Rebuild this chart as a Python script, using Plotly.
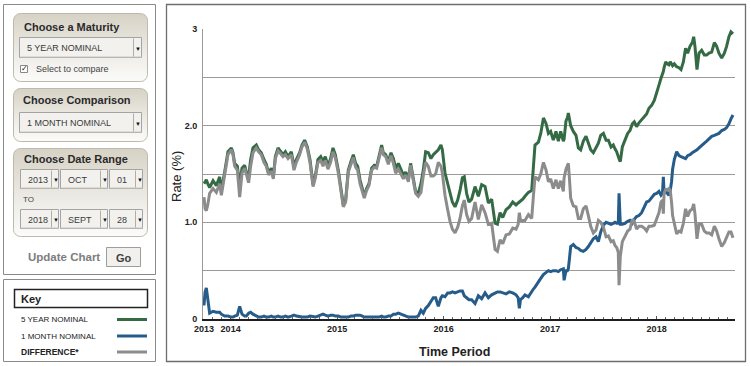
import numpy as np
import plotly.graph_objects as go

# ---------------- data (decimal years, rates in %) ----------------
years = [
    2013.750, 2013.760, 2013.772, 2013.785, 2013.803, 2013.835, 2013.866, 2013.897, 2013.913, 2013.944,
    2013.975, 2014.007, 2014.022, 2014.038, 2014.063, 2014.085, 2014.107, 2014.132, 2014.147, 2014.169,
    2014.188, 2014.210, 2014.241, 2014.263, 2014.288, 2014.313, 2014.335, 2014.357, 2014.382, 2014.401,
    2014.420, 2014.445, 2014.470, 2014.492, 2014.514, 2014.539, 2014.570, 2014.595, 2014.617, 2014.648,
    2014.670, 2014.695, 2014.720, 2014.745, 2014.774, 2014.795, 2014.820, 2014.846, 2014.867, 2014.889,
    2014.914, 2014.939, 2014.961, 2014.983,
    2015.011, 2015.036, 2015.058, 2015.080, 2015.105, 2015.130, 2015.152, 2015.174, 2015.193, 2015.215,
    2015.237, 2015.255, 2015.277, 2015.299, 2015.324, 2015.349, 2015.371, 2015.393, 2015.418, 2015.434,
    2015.456, 2015.481, 2015.506, 2015.528, 2015.550, 2015.575, 2015.600, 2015.622, 2015.644, 2015.669,
    2015.690, 2015.716, 2015.737, 2015.762, 2015.787, 2015.809, 2015.831, 2015.856, 2015.881, 2015.903,
    2015.925, 2015.950, 2015.975, 2015.988, 2016.013, 2016.038, 2016.060, 2016.082, 2016.107, 2016.132,
    2016.154, 2016.176, 2016.194, 2016.216, 2016.238,
    2016.263, 2016.295, 2016.326, 2016.357, 2016.389, 2016.420, 2016.451, 2016.483, 2016.505, 2016.530,
    2016.555, 2016.586, 2016.617, 2016.649, 2016.680, 2016.700, 2016.711, 2016.722, 2016.743, 2016.764,
    2016.796, 2016.827, 2016.843, 2016.858, 2016.890, 2016.912, 2016.937, 2016.962, 2016.984, 2017.005,
    2017.030, 2017.055, 2017.077, 2017.099, 2017.124, 2017.131, 2017.149, 2017.162, 2017.171, 2017.181,
    2017.193, 2017.218, 2017.243, 2017.265, 2017.287, 2017.312, 2017.337, 2017.359, 2017.381, 2017.406,
    2017.431, 2017.453, 2017.475, 2017.500, 2017.525,
    2017.547, 2017.572, 2017.593, 2017.609, 2017.625, 2017.640, 2017.647, 2017.653, 2017.659, 2017.678,
    2017.703, 2017.728, 2017.750, 2017.772, 2017.790, 2017.812, 2017.834, 2017.859, 2017.884, 2017.906,
    2017.928, 2017.953, 2017.978, 2018.000, 2018.022, 2018.041, 2018.055, 2018.063, 2018.070, 2018.085,
    2018.100, 2018.115, 2018.128, 2018.140, 2018.150, 2018.166, 2018.188, 2018.210, 2018.229, 2018.251,
    2018.272, 2018.291, 2018.313, 2018.335, 2018.348, 2018.360, 2018.379, 2018.398, 2018.423, 2018.448,
    2018.470, 2018.492, 2018.517, 2018.542, 2018.564, 2018.585, 2018.611, 2018.636, 2018.657, 2018.679,
    2018.698, 2018.717,
]

five_year = [
    1.40, 1.42, 1.44, 1.40, 1.36, 1.43, 1.38, 1.47, 1.33, 1.52,
    1.73, 1.77, 1.72, 1.61, 1.58, 1.39, 1.56, 1.59, 1.52, 1.47,
    1.65, 1.77, 1.80, 1.75, 1.72, 1.65, 1.60, 1.51, 1.56, 1.47,
    1.68, 1.77, 1.73, 1.70, 1.73, 1.68, 1.73, 1.58, 1.65, 1.72,
    1.80, 1.85, 1.78, 1.65, 1.39, 1.48, 1.65, 1.68, 1.63, 1.68,
    1.58, 1.66, 1.77, 1.70,
    1.54, 1.33, 1.18, 1.23, 1.54, 1.63, 1.70, 1.61, 1.58, 1.44,
    1.34, 1.27, 1.35, 1.40, 1.56, 1.59, 1.58, 1.68, 1.80, 1.72,
    1.70, 1.63, 1.72, 1.66, 1.56, 1.61, 1.54, 1.49, 1.52, 1.44,
    1.61, 1.46, 1.32, 1.30, 1.40, 1.54, 1.73, 1.72, 1.66, 1.70,
    1.72, 1.75, 1.80, 1.75, 1.51, 1.40, 1.28, 1.21, 1.16, 1.23,
    1.33, 1.46, 1.47, 1.30, 1.21,
    1.24, 1.37, 1.27, 1.39, 1.37, 1.20, 1.24, 0.99, 0.98, 1.10,
    1.05, 1.13, 1.16, 1.21, 1.18, 1.20, 1.21, 1.22, 1.24, 1.27,
    1.31, 1.33, 1.58, 1.80, 1.83, 1.92, 2.08, 2.02, 1.92, 1.94,
    1.85, 1.94, 1.84, 1.94, 1.84, 1.86, 2.05, 2.08, 2.13, 2.08,
    2.00, 1.94, 1.90, 1.77, 1.75, 1.84, 1.89, 1.82, 1.75, 1.72,
    1.77, 1.82, 1.90, 1.92, 1.85,
    1.85, 1.78, 1.80, 1.76, 1.73, 1.68, 1.65, 1.64, 1.63, 1.78,
    1.85, 1.92, 1.95, 2.02, 2.04, 1.99, 2.03, 2.06, 2.09, 2.12,
    2.18, 2.21, 2.26, 2.33, 2.42, 2.49, 2.53, 2.56, 2.60, 2.66,
    2.64, 2.63, 2.66, 2.63, 2.62, 2.64, 2.61, 2.60, 2.58, 2.66,
    2.80, 2.75, 2.82, 2.86, 2.92, 2.82, 2.58, 2.75, 2.78, 2.73,
    2.73, 2.75, 2.76, 2.86, 2.82, 2.75, 2.70, 2.75, 2.82, 2.92,
    2.97, 2.95,
]

one_month = [
    0.14, 0.28, 0.32, 0.22, 0.06, 0.08, 0.07, 0.07, 0.05, 0.03,
    0.03, 0.02, 0.02, 0.03, 0.04, 0.13, 0.05, 0.03, 0.03, 0.06,
    0.07, 0.05, 0.03, 0.02, 0.02, 0.03, 0.02, 0.02, 0.03, 0.02,
    0.02, 0.03, 0.02, 0.02, 0.03, 0.02, 0.03, 0.04, 0.03, 0.02,
    0.02, 0.02, 0.02, 0.03, 0.02, 0.02, 0.03, 0.04, 0.05, 0.04,
    0.03, 0.04, 0.04, 0.03,
    0.03, 0.02, 0.02, 0.02, 0.02, 0.03, 0.03, 0.04, 0.04, 0.04,
    0.03, 0.02, 0.02, 0.02, 0.02, 0.02, 0.02, 0.02, 0.03, 0.02,
    0.02, 0.03, 0.03, 0.05, 0.05, 0.06, 0.05, 0.04, 0.03, 0.02,
    0.02, 0.02, 0.02, 0.03, 0.09, 0.06, 0.11, 0.14, 0.18, 0.22,
    0.22, 0.13, 0.22, 0.24, 0.23, 0.27, 0.27, 0.28, 0.27, 0.28,
    0.29, 0.29, 0.24, 0.22, 0.20,
    0.20, 0.16, 0.24, 0.21, 0.27, 0.22, 0.25, 0.27, 0.28, 0.28,
    0.27, 0.26, 0.28, 0.27, 0.25, 0.22, 0.11, 0.20, 0.22, 0.25,
    0.23, 0.29, 0.31, 0.33, 0.39, 0.42, 0.46, 0.48, 0.50, 0.49,
    0.50, 0.50, 0.49, 0.51, 0.52, 0.40, 0.50, 0.50, 0.52, 0.62,
    0.75, 0.77, 0.74, 0.73, 0.71, 0.70, 0.72, 0.75, 0.79, 0.83,
    0.85, 0.80, 0.90, 0.97, 1.00,
    0.99, 0.98, 0.99, 1.00, 0.99, 0.99, 1.30, 0.99, 0.98, 0.98,
    0.99, 1.01, 1.02, 0.99, 1.03, 1.06, 1.07, 1.10, 1.15, 1.21,
    1.22, 1.25, 1.29, 1.30, 1.32, 1.28, 1.30, 1.47, 1.30, 1.32,
    1.30, 1.28, 1.33, 1.42, 1.55, 1.65, 1.73, 1.69, 1.68, 1.67,
    1.66, 1.69, 1.70, 1.72, 1.73, 1.73, 1.75, 1.77, 1.80, 1.82,
    1.84, 1.86, 1.89, 1.90, 1.91, 1.92, 1.95, 1.96, 1.98, 2.02,
    2.07, 2.11,
]

# the chart's third series is the spread between the two rates
difference = [round(f - m, 2) for f, m in zip(five_year, one_month)]

year_tick_positions = [2013.75, 2014, 2015, 2016, 2017, 2018]
year_tick_labels = ["2013", "2014", "2015", "2016", "2017", "2018"]
rate_tick_values = [0, 1, 2, 3]
rate_tick_labels = ["0", "1.0", "2.0", "3"]
series_names = ["5 YEAR NOMINAL", "1 MONTH NOMINAL", "DIFFERENCE*"]

# ---------------- styling ----------------
W, H = 750, 366
FONT = "Liberation Sans, Arial, Helvetica, sans-serif"
GREEN = "#346b44"
BLUE = "#265c89"
GRAY = "#8c8c8c"

fig = go.Figure()

for name, vals, col in [(series_names[0], five_year, GREEN),
                        (series_names[1], one_month, BLUE),
                        (series_names[2], difference, GRAY)]:
    fig.add_trace(go.Scatter(x=years, y=vals, mode="lines", name=name,
                             line=dict(color=col, width=3), xaxis="x", yaxis="y",
                             showlegend=False, hoverinfo="skip"))

# ---------- left control panels (pixel space on x2/y2) ----------
def rounded_poly(x0, y0, x1, y1, r, n=8):
    xs, ys = [], []
    for cx, cy, a0, a1 in [(x1 - r, y0 + r, -90, 0), (x1 - r, y1 - r, 0, 90),
                           (x0 + r, y1 - r, 90, 180), (x0 + r, y0 + r, 180, 270)]:
        for t in np.linspace(np.radians(a0), np.radians(a1), n):
            xs.append(cx + r * np.cos(t))
            ys.append(cy + r * np.sin(t))
    xs.append(xs[0]); ys.append(ys[0])
    return xs, ys

panels = [(13.5, 13.5, 147.5, 81.5), (13.5, 88.5, 147.5, 141.5), (13.5, 148.5, 147.5, 236.5)]
for (x0, y0, x1, y1) in panels:
    xs, ys = rounded_poly(x0, y0, x1, y1, 7)
    fig.add_trace(go.Scatter(x=xs, y=ys, mode="lines", fill="toself",
                             fillgradient=dict(type="vertical",
                                               colorscale=[[0, "#fbfbfa"], [0.35, "#f0eee9"], [1, "#d6d2c5"]]),
                             line=dict(color="#bdb9ae", width=1),
                             xaxis="x2", yaxis="y2", showlegend=False, hoverinfo="skip"))

shapes = []
annotations = []

def rect(x0, y0, x1, y1, line="#999", width=1, fill=None, layer="above"):
    d = dict(type="rect", xref="x2", yref="y2", x0=x0, y0=y0, x1=x1, y1=y1,
             line=dict(color=line, width=width), layer=layer)
    if fill:
        d["fillcolor"] = fill
    shapes.append(d)

def seg(x0, y0, x1, y1, color, width=1):
    shapes.append(dict(type="line", xref="x2", yref="y2", x0=x0, y0=y0, x1=x1, y1=y1,
                       line=dict(color=color, width=width), layer="above"))

def text(x, y, s, size=9, color="#333", bold=False, anchor="left", angle=0):
    annotations.append(dict(xref="x2", yref="y2", x=x, y=y, text=s, showarrow=False,
                            xanchor=anchor, yanchor="middle", textangle=angle,
                            font=dict(family=FONT, size=size, color=color,
                                      weight="bold" if bold else "normal")))

# outer frames
rect(3.5, 4.5, 155.5, 274.5, line="#8a8a8a", width=1)
rect(3.5, 279.5, 155.5, 361.5, line="#8a8a8a", width=1)
rect(166.5, 4.5, 745.5, 361.5, line="#6e6e6e", width=1.3)

def dropdown(x0, y0, x1, y1, label, sep):
    rect(x0, y0, x1, y1, line="#a4a4a4", width=1, fill="#f2f1ee")
    seg(x0 + 1, y1 - 0.5, x1, y1 - 0.5, "#c9c7c1", 1)
    seg(sep, y0 + 1, sep, y1 - 1, "#b0aea8", 1)
    text(x0 + 5, (y0 + y1) / 2 + 0.5, label, size=9, color="#3a3a3a")
    text((sep + x1) / 2 + 0.5, (y0 + y1) / 2 + 1, "▼", size=6, color="#111", anchor="center")

# panel 1
text(22, 27, "Choose a Maturity", size=11, color="#2a2a2a", bold=True)
dropdown(19.5, 37.5, 141.5, 57.5, "5 YEAR NOMINAL", 133.5)
rect(20.5, 65.5, 27.5, 72.5, line="#888", width=1, fill="#ffffff")
text(24, 68.5, "✓", size=8, color="#111", anchor="center")
text(34, 69, "Select to compare", size=9, color="#444")
# panel 2
text(21, 100, "Choose Comparison", size=11, color="#2a2a2a", bold=True)
dropdown(19.5, 112.5, 141.5, 132.5, "1 MONTH NOMINAL", 133.5)
# panel 3
text(22, 159, "Choose Date Range", size=11, color="#2a2a2a", bold=True)
for (x0, x1, sep, lab) in [(20.5, 58.5, 51.5, "2013"), (60.5, 107.5, 100.5, "OCT"), (109.5, 142.5, 135.5, "01")]:
    dropdown(x0, 169.5, x1, 188.5, lab, sep)
text(21, 199, "TO", size=8, color="#444")
for (x0, x1, sep, lab) in [(20.5, 58.5, 51.5, "2018"), (60.5, 107.5, 100.5, "SEPT"), (109.5, 142.5, 135.5, "28")]:
    dropdown(x0, 209.5, x1, 228.5, lab, sep)

# update chart + go
text(26, 257, "Update Chart", size=11.5, color="#7d7d7d", bold=True)
rect(106.5, 247.5, 140.5, 266.5, line="#9d9d9d", width=1, fill="#f1f0ed")
text(123.5, 257.5, "Go", size=11, color="#404040", bold=True, anchor="center")

# key
rect(14.5, 289.5, 147.5, 307.5, line="#222", width=1.5, fill="#ffffff")
text(19, 298.5, "Key", size=11, color="#222", bold=True)
for i, (name, col) in enumerate(zip(series_names, [GREEN, BLUE, GRAY])):
    yy = [319.5, 336, 352][i]
    text(19, yy, name, size=8 if i < 2 else 8.5, color="#222", bold=(i == 2))
    seg(117, yy, 147, yy, col, 3)

# axis titles
text(176, 177, "Rate (%)", size=13, color="#222", anchor="center", angle=-90)
text(454, 351.5, "Time Period", size=12.5, color="#222", bold=True, anchor="center")

# ---------------- layout ----------------
x_left_px, x_right_px = 203, 735
y_top_px, y_bot_px = 29, 319
px_per_year = 106.5
x_range = [2013.75 + (x_left_px - 204) / px_per_year, 2013.75 + (x_right_px - 204) / px_per_year]
month_ticks = [2013.75 + k / 12 for k in range(61)]

fig.update_layout(
    width=W, height=H, autosize=False,
    margin=dict(l=0, r=0, t=0, b=0, pad=0, autoexpand=False),
    paper_bgcolor="#ffffff", plot_bgcolor="rgba(0,0,0,0)",
    showlegend=False,
    xaxis=dict(domain=[x_left_px / W, x_right_px / W], range=x_range, automargin=False,
               tickmode="array", tickvals=year_tick_positions, ticktext=year_tick_labels,
               ticks="inside", ticklen=3, tickcolor="#555",
               minor=dict(tickmode="array", tickvals=month_ticks, ticks="inside",
                          ticklen=2, tickcolor="#666", showgrid=False),
               showgrid=False, zeroline=False, showline=True, linecolor="#1e1e1e", linewidth=1.5,
               tickfont=dict(family=FONT, size=9, color="#222", weight="bold"),
               fixedrange=True),
    yaxis=dict(domain=[1 - y_bot_px / H, 1 - y_top_px / H], range=[0, 3], automargin=False,
               tickmode="array", tickvals=rate_tick_values, ticktext=rate_tick_labels,
               ticks="", showgrid=True, gridcolor="#9a9a9a", gridwidth=1,
               minor=dict(tickmode="array", tickvals=[0.5, 1.5, 2.5], showgrid=True,
                          gridcolor="#9a9a9a", gridwidth=1, ticks=""),
               zeroline=False, showline=True, linecolor="#9a9a9a", linewidth=1,
               tickfont=dict(family=FONT, size=9, color="#222", weight="bold"),
               ticklabelstandoff=3, fixedrange=True),
    xaxis2=dict(domain=[0, 1], range=[0, W], visible=False, fixedrange=True, anchor="y2", automargin=False),
    yaxis2=dict(domain=[0, 1], range=[H, 0], visible=False, fixedrange=True, anchor="x2", automargin=False),
    shapes=shapes,
    annotations=annotations,
)

fig.write_html("out.html", config={"displayModeBar": False},
               post_script="document.body.style.margin='0';document.body.style.padding='0';"
                           "document.body.style.overflow='hidden';")
